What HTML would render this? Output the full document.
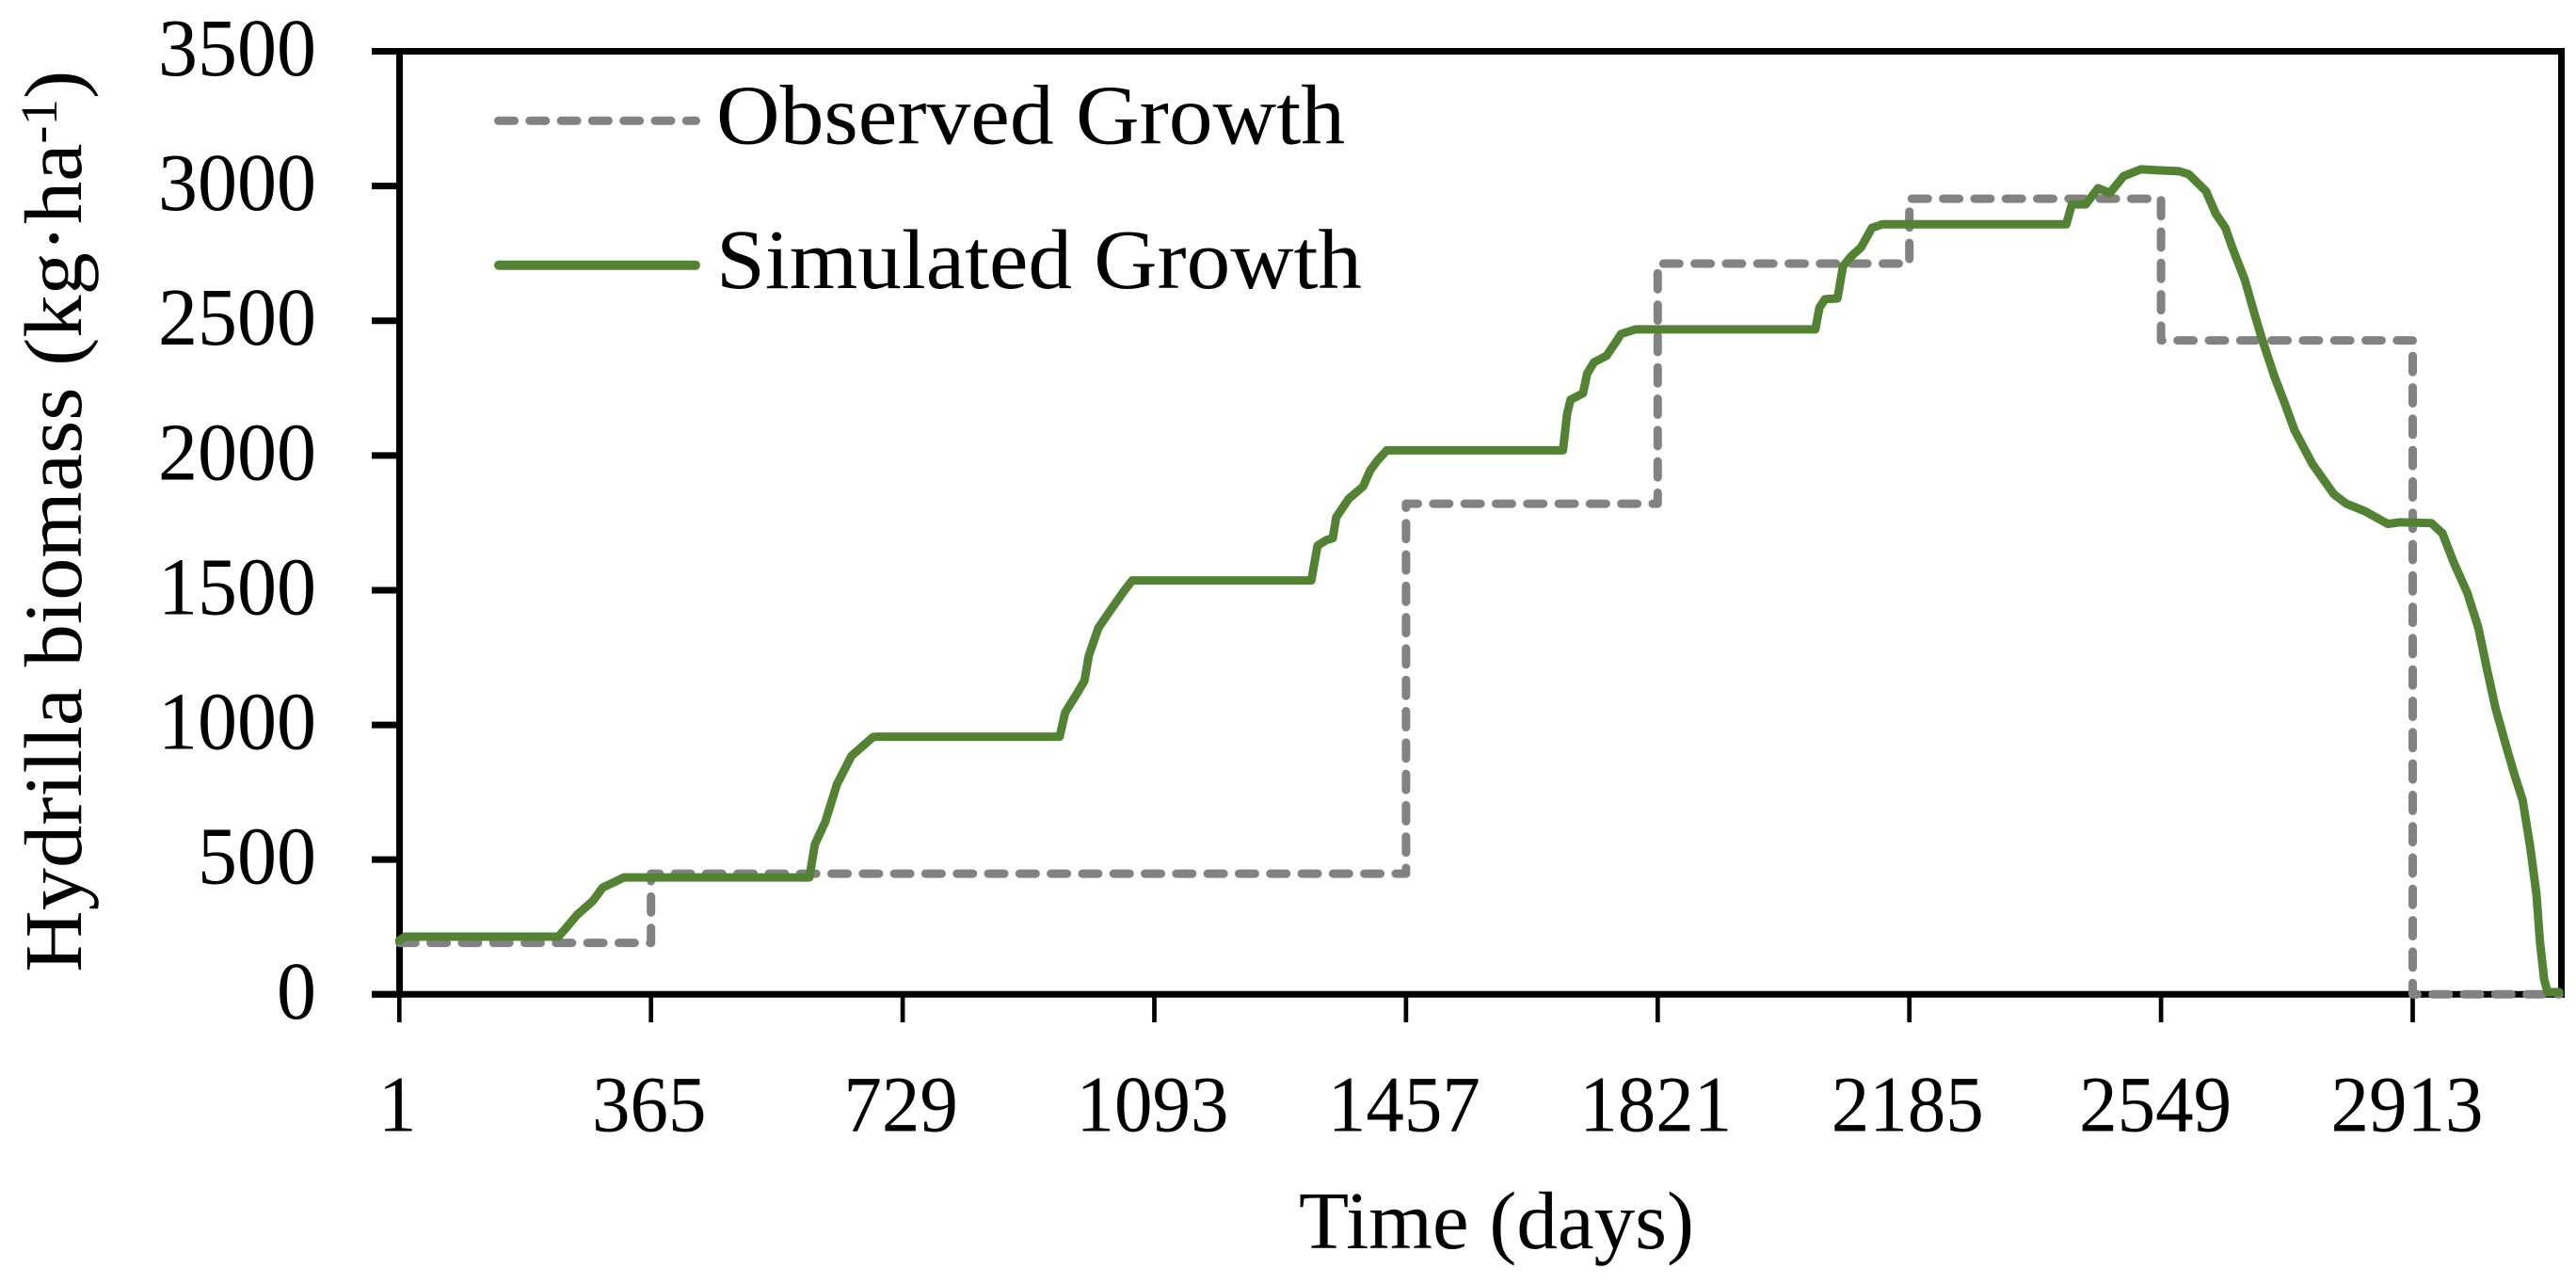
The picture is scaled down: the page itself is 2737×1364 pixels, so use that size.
<!DOCTYPE html>
<html lang="en">
<head>
<meta charset="utf-8">
<title>Hydrilla biomass over time</title>
<style>
html,body{margin:0;padding:0;background:#fff;}
svg{display:block;}
text{font-family:"Liberation Serif",serif;fill:#000;}
</style>
</head>
<body>
<svg id="chart" xmlns="http://www.w3.org/2000/svg" width="2737" height="1364" viewBox="0 0 2737 1364">
  <rect x="0" y="0" width="2737" height="1364" fill="#ffffff"/>
  <g id="axes"></g>
  <g id="series"></g>
  <g>
    <line x1="529.5" y1="128.3" x2="739.5" y2="128.3" stroke="#828282" stroke-width="9" stroke-linecap="round" stroke-dasharray="17 16.3"/>
    <text x="761" y="152.7" font-size="90" textLength="668" lengthAdjust="spacingAndGlyphs">Observed Growth</text>
    <line x1="530" y1="281.7" x2="739" y2="281.7" stroke="#548235" stroke-width="10" stroke-linecap="round"/>
    <text x="761" y="306" font-size="90" textLength="686" lengthAdjust="spacingAndGlyphs">Simulated Growth</text>
  </g>
  <text x="1590" y="1326" font-size="87" text-anchor="middle" textLength="420" lengthAdjust="spacingAndGlyphs">Time (days)</text>
  <text transform="translate(86,1032.7) rotate(-90)" x="0" y="0" font-size="87" textLength="958" lengthAdjust="spacingAndGlyphs">Hydrilla biomass (kg·ha<tspan font-size="55" dy="-26">-1</tspan><tspan dy="26">)</tspan></text>
</svg>
<script>
const xTickDays = [1, 365, 729, 1093, 1457, 1821, 2185, 2549, 2913];
const yTickValues = [0, 500, 1000, 1500, 2000, 2500, 3000, 3500];

const observedDays = [1, 365, 1457, 1821, 2185, 2549, 2913, 3125];
const observedValues = [191, 448, 1821, 2712, 2953, 2427, 0];

const simulatedDays = [1, 9, 231, 243, 258, 281, 295, 326, 361, 594, 602, 617, 634, 655, 686, 693, 956, 964, 981, 992, 998, 1012, 1030, 1050, 1061, 1320, 1329, 1342, 1351, 1356, 1374, 1395, 1405, 1415, 1429, 1684, 1690, 1695, 1713, 1719, 1729, 1747, 1761, 1768, 1789, 2049, 2055, 2063, 2081, 2089, 2100, 2115, 2131, 2146, 2412, 2420, 2440, 2458, 2475, 2495, 2520, 2548, 2575, 2589, 2614, 2628, 2642, 2652, 2670, 2684, 2695, 2713, 2727, 2742, 2768, 2799, 2817, 2844, 2877, 2895, 2940, 2956, 2972, 2992, 3008, 3021, 3033, 3051, 3061, 3072, 3083, 3092, 3097, 3103, 3108, 3125];
const simulatedValues = [200, 214, 214, 249, 295, 347, 396, 434, 434, 434, 557, 640, 780, 885, 955, 956, 956, 1046, 1116, 1164, 1255, 1360, 1427, 1500, 1536, 1536, 1665, 1686, 1693, 1770, 1839, 1885, 1944, 1979, 2019, 2019, 2155, 2207, 2231, 2304, 2346, 2370, 2423, 2451, 2468, 2468, 2549, 2580, 2583, 2702, 2737, 2772, 2845, 2858, 2858, 2932, 2932, 2992, 2974, 3037, 3062, 3058, 3055, 3044, 2981, 2898, 2845, 2772, 2653, 2527, 2433, 2293, 2200, 2094, 1968, 1856, 1821, 1793, 1746, 1752, 1749, 1711, 1605, 1490, 1360, 1200, 1060, 896, 808, 721, 546, 371, 197, 57, 8, 8];

const NS = 'http://www.w3.org/2000/svg';
function xScale(day) { return 424.3 + (day - 1) * 267.4 / 364; }
function yScale(value) { return 1056.3 - value * 1001.8 / 3500; }
function make(tag, parent, attrs) {
  const el = document.createElementNS(NS, tag);
  for (const key in attrs) { el.setAttribute(key, attrs[key]); }
  parent.appendChild(el);
  return el;
}

const axes = document.getElementById('axes');
const series = document.getElementById('series');
const frameColor = '#000000';

const plotTop = yScale(3500);
const plotBottom = yScale(0);
const plotLeft = 424.5;
const plotRight = 2721.5;

const leftAxis = make('line', axes, {x1: plotLeft, y1: plotTop - 3.5, x2: plotLeft, y2: plotBottom + 3.5, stroke: frameColor, 'stroke-width': 7});


const rightAxis = make('line', axes, {x1: plotRight, y1: plotTop - 3.5, x2: plotRight, y2: plotBottom + 3.5, stroke: frameColor, 'stroke-width': 7});


const bottomAxis = make('line', axes, {x1: 395, y1: plotBottom, x2: plotRight + 3.5, y2: plotBottom, stroke: frameColor, 'stroke-width': 7});


const topAxis = make('line', axes, {x1: 395, y1: plotTop, x2: plotRight + 3.5, y2: plotTop, stroke: frameColor, 'stroke-width': 7});



yTickValues.forEach(function (value) {
  const y = yScale(value);
  const tick = make('line', axes, {x1: 395, y1: y, x2: plotLeft, y2: y, stroke: frameColor, 'stroke-width': 7});
  
  
  const label = String(value);
  const text = make('text', axes, {x: 336, y: y + 25.5, 'font-size': 87, 'text-anchor': 'end', textLength: label.length * 42, lengthAdjust: 'spacingAndGlyphs'});
  text.textContent = label;
  
  
});

xTickDays.forEach(function (day) {
  const x = xScale(day);
  const tick = make('line', axes, {x1: x, y1: plotBottom, x2: x, y2: 1086, stroke: frameColor, 'stroke-width': 4.7});
  
  
  const label = String(day);
  const shift = day > 2200 ? 6 : 2;
  const text = make('text', axes, {x: x - shift, y: 1201.7, 'font-size': 85, 'text-anchor': 'middle', textLength: label.length * 40.5, lengthAdjust: 'spacingAndGlyphs'});
  text.textContent = label;
  
  
});

let observedPath = 'M' + xScale(observedDays[0]) + ' ' + yScale(observedValues[0]);
observedValues.forEach(function (value, i) {
  observedPath += ' L' + xScale(observedDays[i]) + ' ' + yScale(value);
  observedPath += ' L' + xScale(observedDays[i + 1]) + ' ' + yScale(value);
});
const observedLine = make('path', series, {d: observedPath, fill: 'none', stroke: '#828282', 'stroke-width': 9, 'stroke-linecap': 'round', 'stroke-linejoin': 'round', 'stroke-dasharray': '17 16.3'});



const simulatedPoints = simulatedDays.map(function (day, i) {
  return xScale(day) + ',' + yScale(simulatedValues[i]);
}).join(' ');
const simulatedLine = make('polyline', series, {points: simulatedPoints, fill: 'none', stroke: '#548235', 'stroke-width': 9, 'stroke-linecap': 'round', 'stroke-linejoin': 'round'});


</script>
</body>
</html>
